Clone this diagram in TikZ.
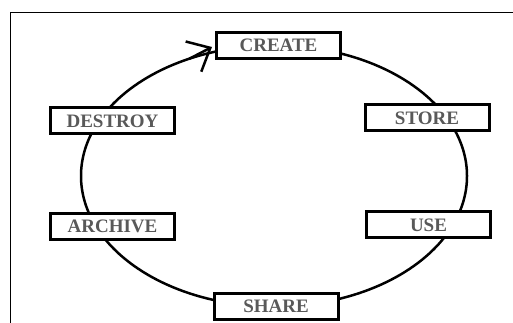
\documentclass[tikz,border=0pt]{standalone}
\usepackage{fontspec}
\usetikzlibrary{arrows.meta,calc}
\newfontfamily\stagefont{Liberation Serif}
\begin{document}
\begin{tikzpicture}[x=1pt,y=1pt,
  stagebox/.style={draw=black, line width=3pt, fill=white, minimum width=124pt,
    minimum height=26pt, inner sep=0pt, text=black!65,
    font=\stagefont\fontsize{19}{21}\selectfont\bfseries},
  cycleline/.style={draw=black, line width=2.5pt},
  arrowtip/.style={cycleline, -{Straight Barb[length=19pt,width=34pt]}}]
\useasboundingbox (0,0) rectangle (513,323);
\fill[white] (0,0) rectangle (513,323);
% frame
\coordinate (fb) at (10.5,0);
\coordinate (ftl) at (10.5,310.5);
\coordinate (fr) at (513,310.5);
\draw[line width=1.1pt] (fb) -- (ftl) -- (fr);
% cycle
\coordinate (c) at (274,147);
\draw[cycleline] (c) ellipse [x radius=193pt, y radius=130.5pt];
\coordinate (tail) at ($(c)+(116:193pt and 130.5pt)$);
% stages
\node[stagebox] (create)  at (278.5,277.5) {CREATE};
\node[stagebox] (store)   at (427,205)     {STORE};
\node[stagebox] (use)     at (428.5,98)    {USE};
\node[stagebox] (share)   at (276,16.5)    {SHARE};
\node[stagebox] (archive) at (112.5,96.5)  {ARCHIVE};
\node[stagebox] (destroy) at (112.5,202)   {DESTROY};
% arrow into CREATE
\draw[arrowtip] (tail) -- ([xshift=-3pt,yshift=-1.5pt]create.west);
\end{tikzpicture}
\end{document}
